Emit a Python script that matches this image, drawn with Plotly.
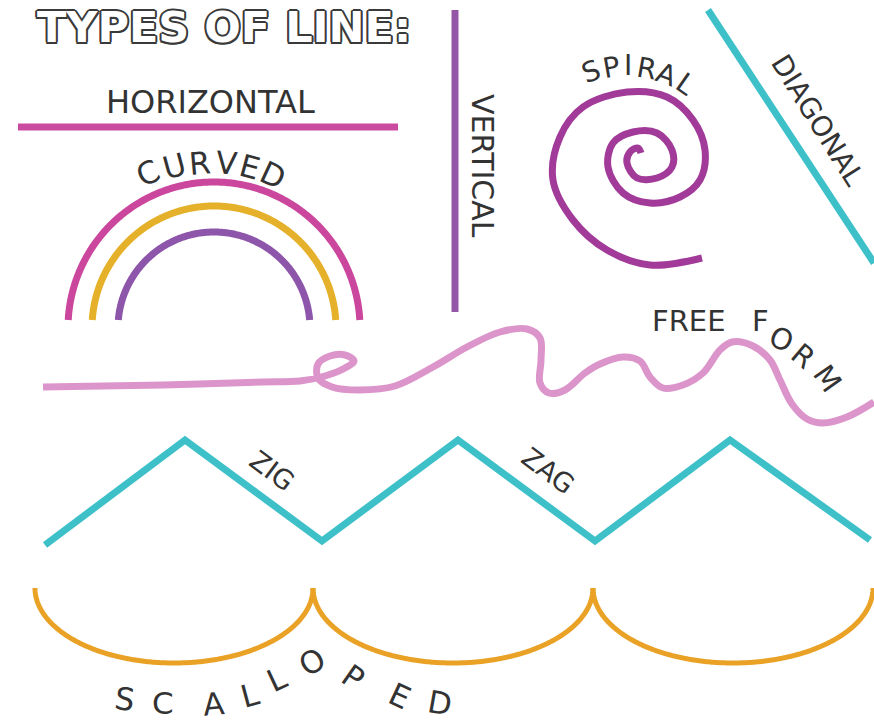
import numpy as np
import plotly.graph_objects as go

W, H = 874, 726

# ---------------- data (pixel space) ----------------
title_text = "TYPES OF LINE:"

horizontal_x = [18, 398]
horizontal_y = [127, 127]

vertical_x = [455, 455]
vertical_y = [10, 312]

diagonal_x = [708, 874]
diagonal_y = [10, 263]

zigzag_x = [45, 185, 322, 458, 595, 730, 870]
zigzag_y = [545, 440, 541, 440, 541, 440, 540]

# rainbow ("curved") arcs: common centre, radii, colours
arc_cx = 214
arc_cy = 328
arc_radii = [146, 122, 96]
arc_colors = ["#cb469d", "#e6b12a", "#8e56aa"]
arc_end_y = 320

# spiral, from outer end to the centre
spiral_x = [702, 650, 607, 573, 553, 560, 583, 627, 667, 693, 705, 700, 680, 650,
            623, 608, 613, 633, 657, 672, 672, 657, 637, 627, 630, 638, 641]
spiral_y = [258, 265, 250, 220, 180, 137, 107, 92, 97, 120, 150, 180, 197, 203,
            193, 167, 143, 132, 133, 150, 167, 178, 178, 163, 152, 148, 153]

# free form line
free_x = [43, 163, 263, 300, 325, 345, 354, 345, 330, 318, 318, 332, 360, 395,
          433, 467, 500, 527, 540, 541, 540, 549, 565, 585, 600, 623, 640, 650,
          663, 683, 703, 720, 732, 753, 770, 780, 792, 807, 823, 847, 874]
free_y = [387, 385, 382, 381, 376, 368, 361, 355, 356, 364, 378, 387, 390, 386,
          367, 347, 332, 329, 338, 360, 383, 393, 390, 373, 364, 357, 361, 377,
          388, 385, 373, 350, 342, 346, 360, 380, 404, 419, 423, 417, 402]

# scallops: edges of each cup, top line and depth
scallop_edges = [35, 313, 593, 873]
scallop_top = 588
scallop_depth = 75

# straight labels
label_text = ["HORIZONTAL", "VERTICAL", "DIAGONAL", "ZIG", "ZAG"]
label_x = [210, 483, 818, 272, 548]
label_y = [102, 166, 120, 470, 470]
label_angle = [0, 90, 58, 37, 37]
label_size = [32, 30, 28, 27, 27]

# letter-by-letter curved labels
curved_letters = list("CURVED")
curved_x = [148, 174, 200, 226, 250, 273]
curved_y = [173, 166, 163, 163, 167, 175]
curved_angle = [-25, -15, -5, 5, 15, 25]

spiral_letters = list("SPIRAL")
spiral_lx = [591, 611, 628, 646, 666, 686]
spiral_ly = [71, 67, 65, 68, 74, 84]
spiral_angle = [-20, -10, 0, 10, 20, 35]

free_letters = ["FREE", "F", "O", "R", "M"]
free_lx = [688, 760, 781, 803, 827]
free_ly = [321, 321, 339, 356, 378]
free_angle = [0, 0, 25, 40, 55]

scal_letters = list("SCALLOPED")
scal_x = [125, 163, 213, 250, 277, 312, 353, 400, 440]
scal_y = [699, 703, 704, 695, 679, 662, 677, 696, 703]
scal_angle = [8, 0, -5, -15, -25, -30, 35, 25, 10]

# ---------------- colours ----------------
MAGENTA = "#c94a9f"
PURPLE = "#9457a8"
SPIRAL_C = "#a13a98"
TEAL = "#3ec0c9"
PINK = "#dc95cb"
ORANGE = "#e9a226"
INK = "#333333"
FONT = "DejaVu Sans"

fig = go.Figure()


def add_line(x, y, color, width=7, shape="linear"):
    fig.add_trace(go.Scatter(x=x, y=y, mode="lines", hoverinfo="skip",
                             line=dict(color=color, width=width, shape=shape,
                                       smoothing=1.0, simplify=False)))


add_line(horizontal_x, horizontal_y, MAGENTA)
add_line(vertical_x, vertical_y, PURPLE)
add_line(diagonal_x, diagonal_y, TEAL)
add_line(zigzag_x, zigzag_y, TEAL)

# rainbow arcs
for r, c in zip(arc_radii, arc_colors):
    t0 = np.arcsin((arc_cy - arc_end_y) / r)
    t = np.linspace(t0, np.pi - t0, 240)
    add_line(arc_cx + r * np.cos(t), arc_cy - r * np.sin(t), c)

add_line(spiral_x, spiral_y, SPIRAL_C, shape="spline")
add_line(free_x, free_y, PINK, shape="spline")

# scallops
for left, right in zip(scallop_edges[:-1], scallop_edges[1:]):
    cx = (left + right) / 2
    a = (right - left) / 2
    t = np.linspace(0, np.pi, 240)
    add_line(cx + a * np.cos(t), scallop_top + scallop_depth * np.sin(t), ORANGE, width=5)

ann = []
outline = ", ".join(f"{dx}px {dy}px 0 #3a3a3a" for dx, dy in
                    [(2, 0), (-2, 0), (0, 2), (0, -2), (1.5, 1.5), (-1.5, -1.5),
                     (1.5, -1.5), (-1.5, 1.5)])
ann.append(dict(x=224, y=27, text=title_text, showarrow=False,
                font=dict(family=FONT, size=43, color="white", weight="bold",
                          shadow=outline)))

for t, x, y, a, s in zip(label_text, label_x, label_y, label_angle, label_size):
    ann.append(dict(x=x, y=y, text=t, showarrow=False, textangle=a,
                    font=dict(family=FONT, size=s, color=INK)))

for letters, xs, ys, angs, size in [
        (curved_letters, curved_x, curved_y, curved_angle, 31),
        (spiral_letters, spiral_lx, spiral_ly, spiral_angle, 28),
        (free_letters, free_lx, free_ly, free_angle, 29),
        (scal_letters, scal_x, scal_y, scal_angle, 31)]:
    for t, x, y, a in zip(letters, xs, ys, angs):
        ann.append(dict(x=x, y=y, text=t, showarrow=False, textangle=a,
                        font=dict(family=FONT, size=size, color=INK)))

fig.update_layout(
    width=W, height=H, margin=dict(l=0, r=0, t=0, b=0),
    paper_bgcolor="white", plot_bgcolor="white", showlegend=False,
    xaxis=dict(range=[0, W], visible=False, fixedrange=True),
    yaxis=dict(range=[H, 0], visible=False, fixedrange=True),
    annotations=ann,
)

fig.write_html("out.html", config={"displayModeBar": False},
               post_script="document.body.style.margin='0';"
                           "document.body.style.overflow='hidden';")
